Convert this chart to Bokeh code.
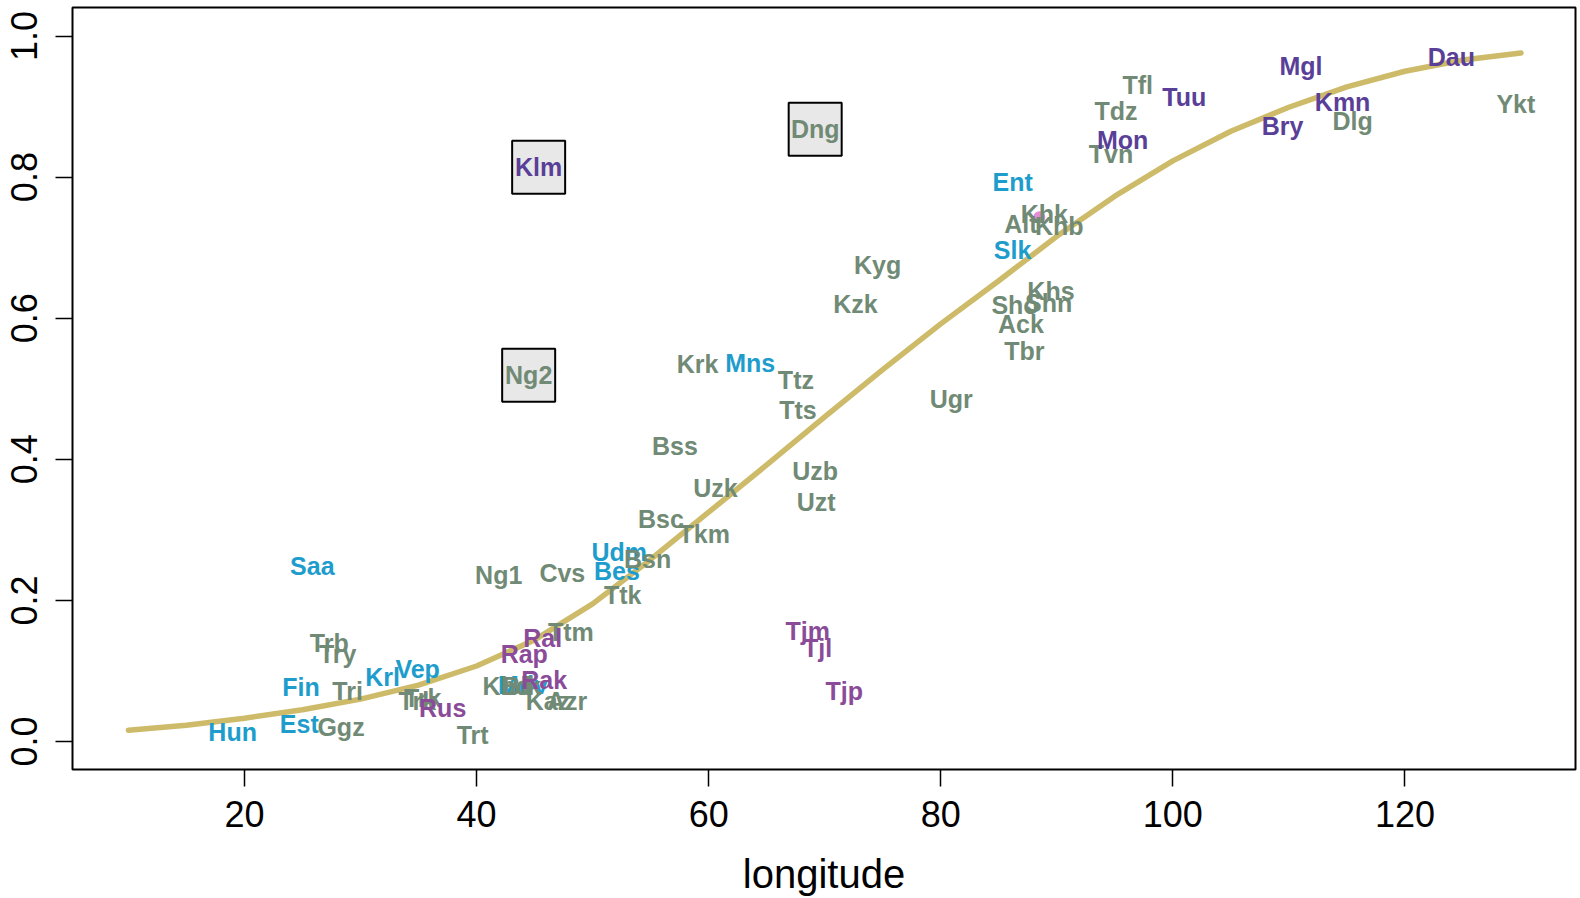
from bokeh.plotting import figure
from bokeh.models import Range1d, FixedTicker, ColumnDataSource
from bokeh.embed import file_html
from bokeh.resources import INLINE
from bokeh.core.properties import value

# ---- data ----
curve_lon = [10, 15, 20, 25, 30, 35, 40, 45, 50, 55, 60, 65, 70, 75, 80, 85, 90, 95,
             100, 105, 110, 115, 120, 125, 130]
curve_val = [0.016, 0.023, 0.033, 0.045, 0.060, 0.080, 0.107, 0.144, 0.195, 0.258,
             0.325, 0.392, 0.460, 0.527, 0.592, 0.653, 0.716, 0.773, 0.823, 0.865,
             0.899, 0.928, 0.950, 0.966, 0.976]

uralic_lab = ["Hun", "Est", "Fin", "Saa", "Krl", "Vep", "Mdv", "Udm", "Bes", "Mns", "Ent", "Slk"]
uralic_lon = [18.98, 24.72, 24.87, 25.85, 31.91, 34.92, 44.0, 52.3, 52.1, 63.58, 86.2, 86.19]
uralic_val = [0.013, 0.025, 0.077, 0.249, 0.091, 0.103, 0.080, 0.268, 0.242, 0.537, 0.793, 0.696]

other_lab = ["Ggz", "Tri", "Trb", "Try", "Trk", "Trk", "Trt", "Ttm", "Kbd", "Blk", "Kaz", "Azr",
             "Ng1", "Cvs", "Ttk", "Bsn", "Bsc", "Tkm", "Bss", "Uzk", "Krk", "Ttz", "Tts",
             "Uzb", "Uzt", "Kzk", "Kyg", "Ugr", "Alt", "Khk", "Khb", "Khs", "Sho", "Shn",
             "Ack", "Tbr", "Tdz", "Tfl", "Tvn", "Dlg", "Ykt", "Ng2", "Dng"]
other_lon = [28.32, 28.89, 27.31, 28.03, 35.36, 34.9, 39.66, 48.13, 42.6, 43.9, 46.15, 47.8,
             41.91, 47.39, 52.59, 54.74, 55.89, 59.62, 57.1, 60.58, 59.05, 67.52, 67.7,
             69.18, 69.26, 72.65, 74.56, 80.9, 86.91, 88.92, 90.21, 89.5, 86.4, 89.3,
             86.91, 87.2, 95.1, 96.97, 94.67, 115.5, 129.56, 44.49, 69.18]
other_val = [0.021, 0.072, 0.139, 0.124, 0.061, 0.057, 0.009, 0.155, 0.079, 0.079, 0.058, 0.058,
             0.236, 0.239, 0.207, 0.259, 0.316, 0.294, 0.419, 0.359, 0.535, 0.513, 0.470,
             0.383, 0.339, 0.620, 0.675, 0.486, 0.734, 0.748, 0.731, 0.639, 0.618, 0.621,
             0.592, 0.554, 0.894, 0.930, 0.833, 0.880, 0.904, 0.519, 0.868]

mongolic_lab = ["Klm", "Mon", "Tuu", "Bry", "Mgl", "Kmn", "Dau"]
mongolic_lon = [45.35, 95.67, 100.98, 109.46, 111.04, 114.63, 124.0]
mongolic_val = [0.814, 0.852, 0.913, 0.873, 0.958, 0.906, 0.970]

indo_lab = ["Rus", "Rap", "Ral", "Rak", "Tjm", "Tjl", "Tjp"]
indo_lon = [37.08, 44.11, 45.7, 45.83, 68.53, 69.39, 71.68]
indo_val = [0.048, 0.124, 0.146, 0.087, 0.157, 0.132, 0.072]

pink_lon = [88.49]
pink_val = [0.743]

boxed_lon = [45.35, 44.49, 69.18]
boxed_val = [0.814, 0.519, 0.868]

x_ticks = [20, 40, 60, 80, 100, 120]
y_ticks = [0.0, 0.2, 0.4, 0.6, 0.8, 1.0]

# ---- figure ----
p = figure(width=1578, height=898, output_backend="svg", toolbar_location=None,
           x_range=Range1d(5.18, 134.7), y_range=Range1d(-0.0397, 1.0404),
           min_border_left=72, min_border_right=3, min_border_top=7, min_border_bottom=129,
           x_axis_label="longitude")
p.background_fill_color = "white"
p.border_fill_color = "white"
p.grid.visible = False
p.outline_line_color = "black"
p.outline_line_width = 2

for ax in (p.xaxis[0], p.yaxis[0]):
    ax.axis_line_color = None
    ax.major_tick_in = 0
    ax.major_tick_out = 17
    ax.major_tick_line_width = 1.5
    ax.major_tick_line_color = "black"
    ax.minor_tick_line_color = None
    ax.major_label_text_font = "Liberation Sans"
    ax.major_label_text_font_size = "36px"
    ax.major_label_text_color = "black"

p.xaxis.ticker = FixedTicker(ticks=x_ticks)
p.yaxis.ticker = FixedTicker(ticks=y_ticks)
p.xaxis.major_label_standoff = 14
p.yaxis.major_label_standoff = 18
p.yaxis.major_label_orientation = "vertical"
p.yaxis.major_label_overrides = {0.0: "0.0", 0.2: "0.2", 0.4: "0.4", 0.6: "0.6", 0.8: "0.8", 1.0: "1.0"}
p.xaxis.axis_label_text_font = "Liberation Sans"
p.xaxis.axis_label_text_font_style = "normal"
p.xaxis.axis_label_text_font_size = "40px"
p.xaxis.axis_label_text_color = "black"
p.xaxis.axis_label_standoff = 22

p.line(curve_lon, curve_val, line_color="#CDBB6A", line_width=5.5, line_join="round",
       line_cap="round")

p.rect(boxed_lon, boxed_val, width=53, height=53, width_units="screen", height_units="screen",
       fill_color="#E8E8E8", line_color="black", line_width=2)

p.scatter(pink_lon, pink_val, size=12, marker="circle", fill_color="#E38DD2", line_color=None)

def labels(lab, lon, val, color):
    src = ColumnDataSource(dict(x=lon, y=val, t=lab))
    p.text("x", "y", text="t", source=src, text_color=color,
           text_font=value("Liberation Sans"), text_font_style="bold",
           text_font_size="25px", text_align="center", text_baseline="middle")

labels(uralic_lab, uralic_lon, uralic_val, "#1E9DCC")
labels(other_lab, other_lon, other_val, "#708A75")
labels(mongolic_lab, mongolic_lon, mongolic_val, "#5A3F99")
labels(indo_lab, indo_lon, indo_val, "#8A4B99")

open("out.html", "w").write(file_html(p, INLINE))
